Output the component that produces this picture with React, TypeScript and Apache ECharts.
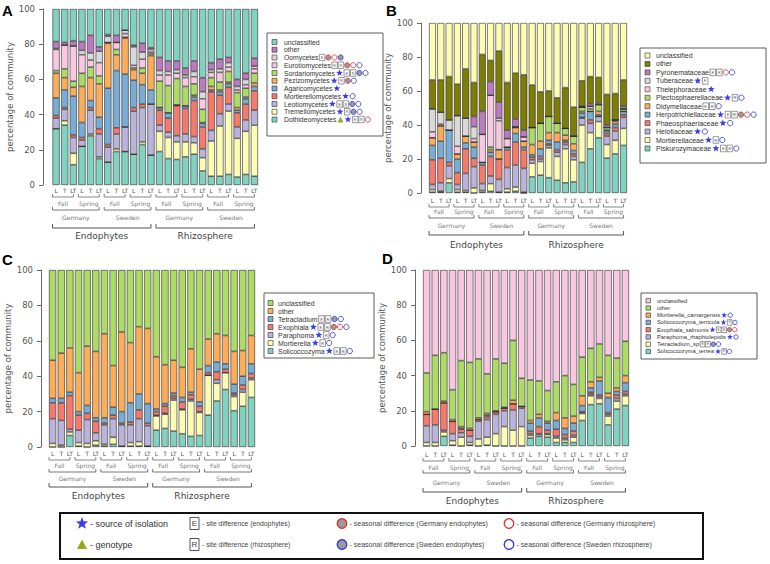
import React, { useEffect, useRef } from "react";
import * as echarts from "echarts";

// ---------- categories ----------
const barLabels = ["L","T","LT","L","T","LT","L","T","LT","L","T","LT","L","T","LT","L","T","LT","L","T","LT","L","T","LT"];
const seasonLabels = ["Fall","Spring","Fall","Spring","Fall","Spring","Fall","Spring"];
const siteLabels = ["Germany","Sweden","Germany","Sweden"];
const compartmentLabels = ["Endophytes","Rhizosphere"];
const yTicks = [0, 20, 40, 60, 80, 100];

// ---------- panel A (classes) ----------
const aNames = ["unclassified","other","Oomycetes","Eurotiomycetes","Sordariomycetes","Pezizomycetes","Agaricomycetes","Mortierellomycetes","Leotiomycetes","Tremellomycetes","Dothideomycetes"];
const aUnclassified = [18.5,19,18,18.5,15,21.5,14.5,15,12,20.5,19.5,22, 27.5,29.5,29.5,33.5,29.5,39,30.5,28.5,27.5,40,36.5,28];
const aOther = [4,1.5,3,5,10,2.5,1,4,0,1,5,1, 7.5,6,5,4,6,8,4,5.5,3,4,3.5,4.5];
const aOomycetes = [0.5,0,0,2.5,4,6.5,3.5,0,2,10.5,4,1.5, 2.5,2,2,1.5,3,4,1.5,2,2.5,2,3,1.5];
const aEurotiomycetes = [12,13.5,20,10.5,4,7.5,0,4,2,1.5,5,1, 3.5,6,3,5,4,6,3,5.5,2.5,1.5,2,2.5];
const aSordariomycetes = [1.5,5,3.5,7.5,6,4.5,0.5,3,0.5,1,3,1, 15,15.5,15,11,6.5,7.5,5,4.5,6,8.5,5,5.5];
const aPezizomycetes = [14,7,5,20.5,13,19,25.5,9,20.5,6,6.5,19.5, 0,0,0,0,1,0.5,2,1,1,1.5,1,2];
const aAgaricomycetes = [10,10,22,8.5,4,6.5,32,32.5,30,15.5,11,8, 1.5,3,0.5,1.5,2,2,1,2,2,1.5,3,2.5];
const aMortierellomycetes = [1.5,1,1.5,1.5,1.5,3,1.5,3.5,0,2,2,0, 8.5,8,17,14.5,20.5,12.5,22,10.5,9.5,8,9,11];
const aLeotiomycetes = [6,6.5,9,3.5,13.5,13,8.5,8.5,14,24.5,19.5,29, 3.5,3,3.5,4.5,3.5,5,6,7,4,6.5,6.5,8.5];
const aTremellomycetes = [0,2.5,6.5,0,1,1,0,1.5,0,0,1.5,0, 11.5,12,10,8.5,6.5,7.5,20,28.5,36,22,24.5,29];
const aDothideomycetes = [32,34,11.5,22,28,15,13,19,19,17.5,23,17, 19,15,14.5,16,17.5,8,5,5,6,4.5,6,5];

// ---------- panel B (families) ----------
const bNames = ["unclassified","other","Pyronemataceae","Tuberaceae","Thelephoraceae","Plectosphaerellaceae","Didymellaceae","Herpotrichiellaceae","Phaeosphaeriaceae","Helotiaceae","Mortierellaceae","Piskurozymaceae"];
const bUnclassified = [33.5,33.5,31.5,36,27,35,18.5,22,16.5,35,29.5,30.5, 36.5,40.5,40,44,38,49.5,34,31.5,32,42,41.5,33.5];
const bOther = [17,19,25.5,18.5,29,20,33.5,12.5,30,28,27,32.5, 25,18.5,15,15,24,17,15,16,15,18,15.5,15.5];
const bPyronemataceae = [0,0,0,0,0,6,13.5,8,9.5,5,4.5,4, 0,0,0,0,0,0,0.5,1.5,1,1.5,0,1.5];
const bTuberaceae = [13.5,7,6,18,10.5,7,0,0,1.5,0,0,0, 0,0,0,0,0,0,0,0,0,0,0,0];
const bThelephoraceae = [3.5,1,0,4.5,0,2,16.5,30.5,17,5,0.5,2.5, 0,0,0,0,0,0,0,1.5,0,0,0,0];
const bPlectosphaerellaceae = [0,0,0,0,0,0,0,1.5,0,0,0,0, 10,10.5,9.5,5.5,4,4.5,2.5,1.5,4,1.5,1,1.5];
const bDidymellaceae = [4.5,9,0,3,4,3,0,1.5,5.5,0,3.5,3.5, 6,4.5,4.5,5.5,3,4,1,0,2,0.5,1.5,0];
const bHerpotrichiellaceae = [8.5,10,19,8,3.5,6.5,1.5,2.5,0,1.5,5,1.5, 1.5,4.5,2,4.5,1,2,2.5,5,1,1.5,2,2];
const bPhaeosphaeriaceae = [14.5,14.5,2,7,14.5,5,11,11.5,12,10.5,13.5,11, 1.5,1.5,1,1.5,1.5,1.5,0.5,2,0,1.5,2,1.5];
const bHelotiaceae = [3,5,7.5,3,10,12.5,4,4.5,7.5,12.5,13,14, 2,1.5,1.5,2.5,2.5,2,4,5.5,3,5,5.5,6.5];
const bMortierellaceae = [1.5,0.5,2.5,1.5,1,3,1,4.5,0,2,2.5,0.5, 8,8,17.5,14,20,13,22,9.5,9.5,8,8,10];
const bPiskurozymaceae = [0.5,0.5,6,0.5,0.5,0,0.5,1,0.5,0.5,1,0, 9.5,10.5,9,7.5,6,6.5,18,26,32.5,20.5,23,28];

// ---------- panel C (genera) ----------
const cNames = ["unclassified","other","Tetracladium","Exophiala","Paraphoma","Mortierella","Solicoccozyma"];
const cUnclassified = [51,47,44,58,43,46,36,54,35,41,32,33, 49,53.5,51,55,44.5,56,39,36,37,46,45.5,37];
const cOther = [21.5,25.5,25,22,33.5,37.5,47.5,23.5,45,34,38,42.5, 29.5,22,18.5,17,24.5,18.5,15,16,16,18.5,14.5,16];
const cTetracladium = [2.5,2.5,2,2,4.5,2,3,4.5,6.5,11,9,11, 1.5,1.5,1.5,2.5,1.5,2.5,4,5.5,3,5,5,5.5];
const cExophiala = [9,10,19,8.5,3.5,6.5,1,2,1,1.5,5,1.5, 2,4,1.5,4,2.5,3,1.5,4.5,2,1,2.5,2.5];
const cParaphoma = [14,14,1.5,7,13.5,4.5,11,10.5,12,10,13,11.5, 0.5,0.5,1,0.5,1,0.5,0,2,0,1,1.5,1];
const cMortierella = [2,1,2,2,2,2.5,1,4,0,2,2.5,0, 8,8,17.5,13.5,20,13,22.5,10,9.5,8,8,10];
const cSolicoccozyma = [0,0,6.5,0.5,0,1,0.5,1.5,0.5,0.5,0.5,0.5, 9.5,10.5,9,7.5,6,6.5,18,26,32.5,20.5,23,28];

// ---------- panel D (species) ----------
const dNames = ["unclassified","other","Mortierella_camargensis","Solicoccozyma_terricola","Exophiala_salmonis","Paraphoma_rhaphiolepidis","Tetracladium_sp","Solicoccozyma_terrea"];
const dUnclassified = [58.5,48.5,47,68,51.5,52.5,50.5,59,50.5,53,40,61.5, 62.5,63,68.5,63.5,60,65,49.5,44.5,42,48.5,50,40.5];
const dOther = [22,30.5,27.5,17,37.5,37.5,33.5,22.5,29.5,25,34,16, 23,19,17.5,17.5,24,18,22,19,19,21.5,17,19.5];
const dMortierellaCamargensis = [1.5,0,1,1,1,1,1,1,0.5,0.5,2,0, 1.5,2,1,4.5,6,4,5.5,3.5,2,2.5,2,4];
const dSolicoccozymaTerricola = [0,0,0,0,0.5,0,0,1,0,0,0,0, 4.5,5,4,5,3.5,4.5,3.5,2.5,8,8.5,2,5];
const dExophialaSalmonis = [6.5,9,15.5,7,2,3.5,1,1.5,1.5,1.5,3.5,1, 1.5,4,2,4,2,2.5,0.5,1,1,1,2,1.5];
const dParaphomaRhaphiolepidis = [9.5,10,1,4,2.5,3.5,10,10,11,9,11.5,10.5, 1,0.5,0.5,1,1,1,0.5,1,1,1,1.5,1];
const dTetracladiumSp = [2,2,2.5,2.5,5,1.5,4,4.5,7,11,9,11, 1.5,1,1.5,2.5,1.5,3,4,5,3,5,4.5,5.5];
const dSolicoccozymaTerrea = [0,0,5.5,0.5,0,0.5,0,0.5,0,0,0,0, 4.5,5.5,5,2,2,2,14.5,23.5,24,12,21,23];

// ---------- colours ----------
const TEAL = "#82d2c1", YELLOW = "#fcfcb2", LAV = "#bab4da", RED = "#f47a6e", BLUE = "#79add4",
  ORANGE = "#fbad5a", GREEN = "#addb66", PINK = "#f9c8e0", GRAY = "#d9d9d9", PURPLE = "#bb7bbf", OLIVE = "#7e7e06";
const STAR = "#3b3bf0", TRI = "#9aa81c", CRED = "#e02b2b", CBLUE = "#2f2fe3", CFILL = "#9a9a9a";

// legend symbols (E/R = site boxes, star, tri, rg/bg = filled circle red/blue, ro/bo = open circle)
const aSymbols = [[],[],["E","rg","ro","bg"],["E","R","rg","ro","bo"],["star","E","R","bg","bo"],["star","R","rg","bo"],["star"],["star","bo"],["star","E","R","bg","bo"],["star","R","bg","bo"],["tri","star","E","R","ro"]];
const bSymbols = [[],[],["E","R","ro","bo"],["star","E"],["star"],["star","R","bo"],["E","R","bo"],["star","E","R","rg","ro","bo"],["star","bo"],["star","bo"],["star","R","bo"],["star","E","R","bo"]];
const cSymbols = [[],[],["E","R","bg","bo"],["star","E","R","rg","ro","bo"],["star","R","bo"],["star","R","bo"],["star","E","R","bo"]];
const dSymbols = [[],[],["star","bo"],["star","R","bo"],["star","E","R","rg","ro"],["star","bo"],["E","R","bg","bo"],["star","R","bo"]];

const panels = [
  { letter: "A", lx: 2, ly: 3, barsLeft: 52.5, barsRight: 258, top: 9, bottom: 185, axisX: 43, nameGap: 27,
    br: [12, 18, 25, 32, 43, 51],
    names: aNames, symbols: aSymbols,
    colors: [TEAL, PURPLE, GRAY, PINK, GREEN, ORANGE, BLUE, RED, LAV, YELLOW, TEAL],
    data: [aUnclassified, aOther, aOomycetes, aEurotiomycetes, aSordariomycetes, aPezizomycetes, aAgaricomycetes, aMortierellomycetes, aLeotiomycetes, aTremellomycetes, aDothideomycetes],
    lg: { x: 267, y: 33, w: 116, h: 103, firstY: 42, step: 7.75, swX: 272, sw: 5, textX: 284, fs: 6.8 } },
  { letter: "B", lx: 386, ly: 3, barsLeft: 429, barsRight: 627, top: 23, bottom: 193, axisX: 421, nameGap: 24,
    br: [14, 18.5, 25, 32, 42, 52],
    names: bNames, symbols: bSymbols,
    colors: [YELLOW, OLIVE, PURPLE, GRAY, PINK, GREEN, ORANGE, BLUE, RED, LAV, YELLOW, TEAL],
    data: [bUnclassified, bOther, bPyronemataceae, bTuberaceae, bThelephoraceae, bPlectosphaerellaceae, bDidymellaceae, bHerpotrichiellaceae, bPhaeosphaeriaceae, bHelotiaceae, bMortierellaceae, bPiskurozymaceae],
    lg: { x: 640, y: 48, w: 126, h: 115, firstY: 55.5, step: 8.45, swX: 645, sw: 5, textX: 656, fs: 7 } },
  { letter: "C", lx: 2, ly: 252, barsLeft: 49, barsRight: 255, top: 270, bottom: 447, axisX: 41, nameGap: 25,
    br: [13, 18, 25, 31, 40, 49],
    names: cNames, symbols: cSymbols,
    colors: [GREEN, ORANGE, BLUE, RED, LAV, YELLOW, TEAL],
    data: [cUnclassified, cOther, cTetracladium, cExophiala, cParaphoma, cMortierella, cSolicoccozyma],
    lg: { x: 264, y: 293, w: 110, h: 65, firstY: 303, step: 8, swX: 268, sw: 5, textX: 278, fs: 7 } },
  { letter: "D", lx: 382, ly: 251, barsLeft: 423, barsRight: 629, top: 270, bottom: 446, axisX: 415, nameGap: 19,
    br: [15, 21, 27, 36, 46, 55],
    names: dNames, symbols: dSymbols,
    colors: [PINK, GREEN, ORANGE, BLUE, RED, LAV, YELLOW, TEAL],
    data: [dUnclassified, dOther, dMortierellaCamargensis, dSolicoccozymaTerricola, dExophialaSalmonis, dParaphomaRhaphiolepidis, dTetracladiumSp, dSolicoccozymaTerrea],
    lg: { x: 641, y: 293, w: 116, h: 66, firstY: 300.7, step: 7.25, swX: 646, sw: 4.5, textX: 657, fs: 5.8 } },
];

const SANS = "Liberation Sans";
const DJ = "DejaVu Sans";

const starPoints = (cx: number, cy: number, R: number) => {
  const pts: number[][] = [];
  for (let i = 0; i < 10; i++) {
    const rr = i % 2 === 0 ? R : R * 0.42;
    const a = -Math.PI / 2 + (i * Math.PI) / 5;
    pts.push([cx + rr * Math.cos(a), cy + rr * Math.sin(a)]);
  }
  return pts;
};

export default function App() {
  const ref = useRef<HTMLDivElement>(null);
  useEffect(() => {
    const chart = echarts.init(ref.current!, null, { renderer: "svg", width: 770, height: 564 });
    const ctx = document.createElement("canvas").getContext("2d")!;
    const tw = (t: string, fs: number, fam = SANS) => { ctx.font = `${fs}px "${fam}"`; return ctx.measureText(t).width; };

    const grids: any[] = [], xAxes: any[] = [], yAxes: any[] = [], series: any[] = [];
    const geo: any[] = [];
    panels.forEach((p, k) => {
      const w = (p.barsRight - p.barsLeft) / 28.6;
      const gl = p.barsLeft - 0.1 * w;
      geo.push({ w });
      grids.push({ left: gl, top: p.top, width: 28.8 * w, height: p.bottom - p.top });
      xAxes.push({ gridIndex: k, type: "category", data: barLabels,
        axisLine: { show: false }, axisTick: { show: false },
        axisLabel: { interval: 0, fontSize: 6, color: "#555", margin: p.br[0] - 10, fontFamily: DJ } });
      yAxes.push({ gridIndex: k, type: "value", min: yTicks[0], max: yTicks[yTicks.length - 1], interval: 20,
        offset: gl - p.axisX,
        axisLine: { show: true, lineStyle: { color: "#444", width: 0.8 } },
        axisTick: { show: true, length: 4, lineStyle: { color: "#444", width: 0.8 } },
        splitLine: { show: false },
        axisLabel: { fontSize: 8.5, color: "#555", margin: 8, fontFamily: DJ },
        name: "percentage of community", nameLocation: "middle", nameRotate: 90, nameGap: p.nameGap,
        nameTextStyle: { fontSize: 8.5, color: "#555", fontFamily: DJ } });
      for (let s = p.names.length - 1; s >= 0; s--) {
        series.push({ type: "bar", name: p.letter + ":" + p.names[s], xAxisIndex: k, yAxisIndex: k, stack: "st" + k,
          data: p.data[s], barCategoryGap: "16.67%",
          itemStyle: { color: p.colors[s], borderColor: "#2a2a2a", borderWidth: 0.6 } });
      }
    });
    chart.setOption({ animation: false, backgroundColor: "#fff", grid: grids, xAxis: xAxes, yAxis: yAxes, series });

    const els: any[] = [];
    const symbolRow = (syms: string[], x0: number, cy: number, fs: number) => {
      let x = x0;
      const bw = fs * 0.8, bh = fs * 0.95, r = fs * 0.38, gap = fs * 0.14;
      for (const s of syms) {
        if (s === "star") {
          const R = fs * 0.52;
          els.push({ type: "polygon", silent: true, shape: { points: starPoints(x + R, cy, R) }, style: { fill: STAR } });
          x += 2 * R + gap;
        } else if (s === "tri") {
          const tr = r * 1.15;
          els.push({ type: "polygon", silent: true, shape: { points: [[x, cy + tr], [x + 2 * tr, cy + tr], [x + tr, cy - tr]] }, style: { fill: TRI } });
          x += 2 * tr + gap;
        } else if (s === "E" || s === "R") {
          els.push({ type: "rect", silent: true, shape: { x, y: cy - bh / 2, width: bw, height: bh }, style: { fill: "#fff", stroke: "#555", lineWidth: 0.6 } });
          els.push({ type: "text", x: x + bw / 2, y: cy, silent: true, style: { text: s, fill: "#555", fontSize: fs * 0.58, fontFamily: SANS, align: "center", verticalAlign: "middle" } });
          x += bw + gap;
        } else {
          const red = s[0] === "r", filled = s[1] === "g";
          els.push({ type: "circle", silent: true, shape: { cx: x + r, cy, r }, style: { fill: filled ? CFILL : "#fff", stroke: red ? CRED : CBLUE, lineWidth: 0.8 } });
          x += 2 * r + gap;
        }
      }
    };

    panels.forEach((p, k) => {
      const g = geo[k];
      els.push({ type: "text", x: p.lx, y: p.ly, silent: true, style: { text: p.letter, fill: "#000", fontSize: 15, fontWeight: "bold", fontFamily: SANS } });
      const cx = (i: number) => chart.convertToPixel({ xAxisIndex: k } as any, i) as unknown as number;
      const levels = [
        { labels: seasonLabels, n: 3, by: p.br[0], ty: p.br[1], fs: 6, color: "#777", tick: 3, lw: 0.7 },
        { labels: siteLabels, n: 6, by: p.br[2], ty: p.br[3], fs: 6, color: "#777", tick: 3, lw: 0.8 },
        { labels: compartmentLabels, n: 12, by: p.br[4], ty: p.br[5], fs: 9, color: "#444", tick: 4, lw: 1 },
      ];
      levels.forEach((lv) => {
        lv.labels.forEach((lab, j) => {
          const i0 = j * lv.n, i1 = i0 + lv.n - 1;
          const x1 = cx(i0) - g.w / 2, x2 = cx(i1);
          const y = p.bottom + lv.by;
          els.push({ type: "polyline", silent: true, shape: { points: [[x1, y - lv.tick], [x1, y], [x2, y], [x2, y - lv.tick]] }, style: { stroke: "#555", fill: null, lineWidth: lv.lw } });
          els.push({ type: "text", x: (x1 + x2) / 2, y: p.bottom + lv.ty, silent: true, style: { text: lab, fill: lv.color, fontSize: lv.fs, fontFamily: DJ, align: "center", verticalAlign: "middle" } });
        });
      });
      const L = p.lg;
      els.push({ type: "rect", silent: true, shape: { x: L.x, y: L.y, width: L.w, height: L.h }, style: { fill: "#fff", stroke: "#333", lineWidth: 0.8 } });
      p.names.forEach((nm, i) => {
        const cy = L.firstY + i * L.step;
        els.push({ type: "rect", silent: true, shape: { x: L.swX, y: cy - L.sw / 2, width: L.sw, height: L.sw }, style: { fill: p.colors[i], stroke: "#333", lineWidth: 0.6 } });
        els.push({ type: "text", x: L.textX, y: cy, silent: true, style: { text: nm, fill: "#333", fontSize: L.fs, fontFamily: SANS, verticalAlign: "middle" } });
        symbolRow(p.symbols[i], L.textX + tw(nm, L.fs) + 1, cy, L.fs);
      });
    });

    // bottom key box
    els.push({ type: "rect", silent: true, shape: { x: 60, y: 513, width: 643, height: 46 }, style: { fill: "#fff", stroke: "#111", lineWidth: 2 } });
    const r1 = 523.5, r2 = 544.5;
    els.push({ type: "polygon", silent: true, shape: { points: starPoints(82, r1, 6.5) }, style: { fill: STAR } });
    els.push({ type: "text", x: 90, y: r1, silent: true, style: { text: "- source of isolation", fill: "#333", fontSize: 9, fontFamily: SANS, verticalAlign: "middle" } });
    els.push({ type: "polygon", silent: true, shape: { points: [[77, r2 + 4.5], [87, r2 + 4.5], [82, r2 - 5]] }, style: { fill: TRI } });
    els.push({ type: "text", x: 90, y: r2, silent: true, style: { text: "- genotype", fill: "#333", fontSize: 9, fontFamily: SANS, verticalAlign: "middle" } });
    [["E", r1, "- site difference (endophytes)"], ["R", r2, "- site difference (rhizosphere)"]].forEach(([l, y, t]: any) => {
      els.push({ type: "rect", silent: true, shape: { x: 190, y: y - 6, width: 9, height: 12 }, style: { fill: "#fff", stroke: "#444", lineWidth: 0.9 } });
      els.push({ type: "text", x: 194.5, y, silent: true, style: { text: l, fill: "#444", fontSize: 8, fontFamily: SANS, align: "center", verticalAlign: "middle" } });
      els.push({ type: "text", x: 202, y, silent: true, style: { text: t, fill: "#444", fontSize: 6.8, fontFamily: SANS, verticalAlign: "middle" } });
    });
    [[342, r1, CFILL, CRED, "- seasonal difference (Germany endophytes)"], [342, r2, CFILL, CBLUE, "- seasonal difference (Sweden endophytes)"],
     [509, r1, "#fff", CRED, "- seasonal difference (Germany rhizosphere)"], [509, r2, "#fff", CBLUE, "- seasonal difference (Sweden rhizosphere)"]].forEach(([x, y, f, s, t]: any) => {
      els.push({ type: "circle", silent: true, shape: { cx: x, cy: y, r: 4.8 }, style: { fill: f, stroke: s, lineWidth: 1.3 } });
      els.push({ type: "text", x: x + 7.5, y, silent: true, style: { text: t, fill: "#444", fontSize: 7, fontFamily: SANS, verticalAlign: "middle" } });
    });

    chart.setOption({ graphic: { elements: els } });
    return () => chart.dispose();
  }, []);
  return <div ref={ref} style={{ position: "absolute", left: 0, top: 0, width: 770, height: 564, background: "#fff" }} />;
}
